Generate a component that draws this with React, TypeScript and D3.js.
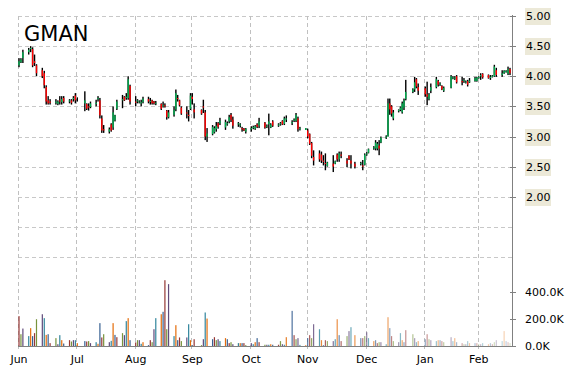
import React from 'react';
import * as d3 from 'd3';

const W = 570;
const H = 370;

// OHLC by trading day (Jun 2016 - Feb 2017)
const opens = [
  4.18,4.23,4.30,4.40,4.45,4.45,4.25,4.18,4.10,4.05,3.82,3.60,3.58,3.56,3.54,3.60,3.57,3.64,3.58,3.60,3.62,3.68,
  3.62,3.55,3.54,3.50,3.49,3.54,3.62,3.60,3.30,3.12,3.08,3.20,3.15,3.27,3.46,3.60,3.66,3.64,3.64,3.84,
  3.58,3.58,3.57,3.55,3.57,3.62,3.58,3.60,3.58,3.55,3.54,3.50,3.52,3.43,3.32,3.36,3.45,3.64,3.60,3.48,3.40,3.36,3.46,
  3.66,3.45,3.44,3.50,3.40,3.00,3.04,3.07,3.12,3.22,3.22,3.15,3.20,3.25,3.36,3.28,3.20,3.18,3.14,3.13,3.08,
  3.12,3.14,3.13,3.20,3.18,3.23,3.16,3.20,3.15,3.25,3.18,3.20,3.26,3.21,3.28,3.22,3.26,3.26,3.30,3.12,3.11,
  3.10,3.04,2.89,2.66,2.72,2.70,2.60,2.56,2.51,2.55,2.55,2.70,2.62,2.70,2.60,2.68,2.60,2.55,2.55,2.52,2.53,
  2.70,2.73,2.80,2.80,2.80,2.85,2.90,2.98,3.00,3.55,3.50,3.30,3.42,3.44,3.40,3.48,3.62,3.74,3.78,3.95,3.82,
  3.80,3.70,3.62,3.76,3.82,3.92,3.86,3.84,3.76,3.81,3.97,3.96,4.00,3.92,3.92,3.90,3.92,3.90,3.92,3.92,
  3.97,4.00,4.04,4.02,3.97,3.99,4.00,4.10,4.02,4.05,4.08,4.04,4.12,
];
const highs = [
  4.30,4.30,4.44,4.47,4.50,4.48,4.36,4.20,4.14,4.09,3.85,3.67,3.62,3.62,3.60,3.67,3.67,3.67,3.62,3.62,3.67,3.72,
  3.65,3.75,3.55,3.55,3.58,3.61,3.67,3.64,3.35,3.19,3.15,3.22,3.50,3.36,3.61,3.69,3.67,3.72,4.00,3.86,
  3.67,3.62,3.60,3.61,3.66,3.66,3.64,3.61,3.59,3.59,3.55,3.58,3.55,3.44,3.44,3.50,3.78,3.69,3.61,3.50,3.50,3.44,3.72,
  3.72,3.55,3.45,3.61,3.44,3.14,3.19,3.17,3.24,3.24,3.31,3.28,3.25,3.36,3.39,3.33,3.24,3.22,3.16,3.14,3.14,
  3.17,3.18,3.19,3.22,3.31,3.24,3.20,3.38,3.22,3.27,3.22,3.24,3.27,3.33,3.35,3.27,3.30,3.39,3.33,3.16,3.14,
  3.13,3.05,2.91,2.77,2.77,2.75,2.69,2.72,2.58,2.69,2.60,2.72,2.75,2.75,2.64,2.69,2.69,2.58,2.58,2.61,2.72,
  2.74,2.80,2.84,2.94,2.91,2.94,3.00,3.02,3.63,3.63,3.52,3.44,3.45,3.50,3.58,3.63,3.94,3.80,3.99,3.97,3.88,
  3.83,3.91,3.72,3.88,3.99,3.94,3.90,3.85,3.83,4.02,4.00,4.00,4.02,3.99,3.97,3.93,3.94,3.97,3.99,3.99,
  4.00,4.05,4.05,4.03,4.02,4.02,4.19,4.14,4.10,4.10,4.10,4.16,4.14,
];
const lows = [
  4.15,4.22,4.22,4.36,4.40,4.15,4.17,4.00,3.97,3.80,3.53,3.53,3.53,3.53,3.52,3.53,3.53,3.55,3.55,3.53,3.58,3.55,
  3.58,3.42,3.44,3.43,3.47,3.50,3.58,3.30,3.06,3.06,3.05,3.08,3.11,3.25,3.44,3.47,3.59,3.61,3.61,3.53,
  3.50,3.55,3.55,3.50,3.55,3.55,3.53,3.53,3.53,3.52,3.44,3.48,3.48,3.28,3.30,3.33,3.42,3.58,3.50,3.36,3.30,3.25,3.44,
  3.53,3.30,3.36,3.39,2.94,2.91,3.02,3.05,3.08,3.13,3.19,3.11,3.18,3.22,3.24,3.13,3.16,3.15,3.08,3.09,3.05,
  3.08,3.12,3.11,3.14,3.14,3.13,3.14,3.02,3.14,3.16,3.16,3.18,3.19,3.19,3.24,3.19,3.24,3.24,3.08,3.10,3.11,
  2.97,2.86,2.64,2.52,2.58,2.56,2.52,2.44,2.50,2.41,2.54,2.58,2.58,2.64,2.49,2.61,2.47,2.47,2.52,2.44,2.52,
  2.68,2.72,2.78,2.77,2.77,2.69,2.89,2.96,3.00,3.36,3.33,3.27,3.40,3.42,3.38,3.44,3.60,3.72,3.74,3.80,3.69,
  3.66,3.52,3.60,3.72,3.80,3.83,3.84,3.77,3.74,3.80,3.95,3.94,3.88,3.85,3.89,3.88,3.83,3.89,3.91,3.91,
  3.96,3.94,3.96,3.96,3.94,3.98,3.99,3.99,3.99,4.04,4.06,4.02,4.02,
];
const closes = [
  4.25,4.28,4.40,4.44,4.47,4.18,4.22,4.05,4.00,3.85,3.58,3.55,3.56,3.58,3.58,3.58,3.62,3.58,3.60,3.56,3.64,3.60,
  3.62,3.60,3.46,3.48,3.55,3.56,3.64,3.35,3.10,3.10,3.12,3.10,3.40,3.35,3.58,3.62,3.60,3.66,3.95,3.58,
  3.56,3.60,3.58,3.57,3.63,3.58,3.59,3.55,3.55,3.56,3.46,3.52,3.50,3.32,3.40,3.44,3.72,3.62,3.52,3.38,3.38,3.34,3.68,
  3.62,3.40,3.38,3.48,3.00,3.05,3.16,3.14,3.18,3.16,3.26,3.24,3.22,3.32,3.28,3.18,3.22,3.20,3.12,3.10,3.13,
  3.14,3.16,3.17,3.16,3.25,3.15,3.18,3.25,3.20,3.18,3.20,3.22,3.20,3.30,3.30,3.24,3.28,3.36,3.12,3.14,3.14,
  3.00,2.88,2.68,2.60,2.62,2.60,2.58,2.55,2.57,2.50,2.59,2.62,2.72,2.68,2.55,2.62,2.55,2.50,2.56,2.50,2.70,
  2.72,2.79,2.82,2.90,2.88,2.80,2.98,3.00,3.55,3.45,3.38,3.40,3.44,3.48,3.55,3.60,3.74,3.78,3.90,3.83,3.76,
  3.70,3.66,3.70,3.82,3.95,3.86,3.88,3.78,3.81,4.00,3.98,3.98,3.90,3.90,3.94,3.91,3.86,3.93,3.97,3.98,
  3.99,4.02,3.98,3.97,3.99,4.01,4.16,4.02,4.05,4.09,4.09,4.12,4.05,
];
// Volume in thousands
const volumesK = [
  225,91,133,77,136,77,99,202,239,210,86,91,25,62,17,84,47,22,47,37,47,47,
  25,40,37,40,25,32,20,173,67,91,32,42,173,86,69,99,84,188,210,47,
  30,47,47,20,32,10,47,32,128,210,239,257,491,128,462,77,158,47,67,40,67,165,47,
  10,54,10,54,252,207,54,69,47,54,40,62,54,25,32,17,25,25,25,25,10,
  25,17,32,62,32,13,13,13,17,13,13,40,17,13,69,264,84,54,62,12,10,
  62,84,62,165,128,47,10,47,40,40,54,202,84,40,77,114,143,84,62,62,77,
  106,62,40,47,25,32,32,17,217,136,77,40,32,99,47,32,121,91,62,32,40,
  54,91,54,47,40,47,47,40,32,69,40,62,32,25,17,17,40,25,25,25,
  17,17,25,17,25,17,32,47,40,114,40,32,25,
];

const firstDay = '2016-06-01';
const lastDay = '2017-02-17';
const holidays = ['2016-07-04', '2016-09-05', '2016-11-24', '2016-12-26', '2017-01-02', '2017-01-16'];
const monthLabels = ['Jun', 'Jul', 'Aug', 'Sep', 'Oct', 'Nov', 'Dec', 'Jan', 'Feb'];
const monthStarts = ['2016-06-01', '2016-07-01', '2016-08-01', '2016-09-01', '2016-10-03', '2016-11-01', '2016-12-01', '2017-01-03', '2017-02-01'];
const priceLabelTicks = [5, 4.5, 4, 3.5, 3, 2.5, 2];
const priceGridTicks = [5, 4.5, 4, 3.5, 3, 2.5, 2, 1.5, 1];
const volumeTicksK = [400, 200, 0];
const volumeColors = ['#953735', '#77933C', '#604A7B', '#31859C', '#E46C0A', '#376092'];

const parse = d3.timeParse('%Y-%m-%d');
const fmt = d3.timeFormat('%Y-%m-%d');
const holidaySet = new Set(holidays);
const tradingDays = d3.timeDay
  .range(parse(firstDay)!, d3.timeDay.offset(parse(lastDay)!, 1))
  .filter((d) => d.getDay() !== 0 && d.getDay() !== 6 && !holidaySet.has(fmt(d)));

const FONT = '"DejaVu Sans", Verdana, sans-serif';
const AXIS_X = 512.5;

export default function App() {
  const x = d3
    .scaleTime()
    .domain([...monthStarts.map((s) => parse(s)!), parse(lastDay)!])
    .range([19, 77.3, 135.7, 192.3, 251.3, 307.7, 366.7, 425.3, 478.7, 510]);
  const y = d3.scaleLinear().domain([1, 5]).range([257, 16]);
  const yv = d3.scaleLinear().domain([0, 400]).range([346.5, 292.5]);

  const n = Math.min(tradingDays.length, closes.length);
  const bars = d3.range(n).map((i) => ({
    date: tradingDays[i],
    o: opens[i],
    h: highs[i],
    l: lows[i],
    c: closes[i],
    v: volumesK[i],
  }));

  const crisp = (v: number) => Math.round(v) + 0.5;
  const fadeStart = 85;

  return (
    <svg
      width={W}
      height={H}
      style={{ position: 'absolute', left: 0, top: 0, background: '#fff' }}
      fontFamily={FONT}
    >
      <rect x={0} y={0} width={W} height={H} fill="#fff" />
      {/* horizontal price grid */}
      {priceGridTicks.map((t) => (
        <line
          key={'hg' + t}
          x1={18}
          x2={AXIS_X}
          y1={crisp(y(t))}
          y2={crisp(y(t))}
          stroke="#c8c8c8"
          strokeDasharray="4,3"
        />
      ))}
      {/* vertical month grid */}
      {monthStarts.map((s) => {
        const px = crisp(x(parse(s)!)) - 1;
        return (
          <line key={'vg' + s} x1={px} x2={px} y1={16} y2={349} stroke="#c0c0c0" strokeDasharray="4,3" />
        );
      })}
      {/* volume bars */}
      {bars.map((b, i) => {
        const px = x(b.date);
        const op = i < fadeStart ? 1 : 1 - 0.72 * ((i - fadeStart) / (n - 1 - fadeStart));
        const top = yv(b.v);
        return (
          <rect
            key={'v' + i}
            x={px - 0.6}
            y={top}
            width={1.2}
            height={Math.max(0, yv(0) - top)}
            fill={volumeColors[i % volumeColors.length]}
            fillOpacity={op}
          />
        );
      })}
      {/* candles */}
      {bars.map((b, i) => {
        const px = x(b.date);
        const yh = y(b.h);
        const yl = y(b.l);
        const yo = y(b.o);
        const yc = y(b.c);
        const top = Math.min(yo, yc);
        const hgt = Math.max(1, Math.abs(yo - yc));
        const col = b.c > b.o ? '#00B050' : b.c < b.o ? '#FF0000' : '#000';
        return (
          <g key={'c' + i}>
            <rect x={px - 0.7} y={yh} width={1.4} height={Math.max(1, yl - yh)} fill="#000" />
            <rect x={px - 0.7} y={top} width={1.4} height={hgt} fill={col} />
          </g>
        );
      })}
      {/* bottom axis */}
      <line x1={18} x2={AXIS_X} y1={346.5} y2={346.5} stroke="#808080" />
      {/* right axis */}
      <line x1={AXIS_X} x2={AXIS_X} y1={15} y2={347} stroke="#808080" />
      {priceLabelTicks.map((t) => {
        const ty = crisp(y(t));
        return (
          <g key={'pl' + t}>
            <line x1={510} x2={516} y1={ty} y2={ty} stroke="#808080" />
            <rect x={525} y={ty - 8.5} width={26} height={17} fill="#ECE9D8" />
            <text x={526} y={ty} dy="0.36em" fontSize={11} fill="#000">
              {d3.format('.2f')(t)}
            </text>
          </g>
        );
      })}
      {volumeTicksK.map((t) => {
        const ty = crisp(yv(t)) - 1;
        return (
          <g key={'vl' + t}>
            <line x1={510} x2={516} y1={ty} y2={ty} stroke="#808080" />
            <text x={525} y={ty} dy="0.36em" fontSize={11} fill="#000">
              {d3.format('.1f')(t) + 'K'}
            </text>
          </g>
        );
      })}
      {/* month labels */}
      {monthStarts.map((s, i) => (
        <text
          key={'ml' + s}
          x={x(parse(s)!)}
          y={363}
          fontSize={11}
          textAnchor="middle"
          fill="#000"
        >
          {monthLabels[i]}
        </text>
      ))}
      {/* title */}
      <text x={24} y={41} fontSize={21} fill="#000">
        GMAN
      </text>
    </svg>
  );
}
